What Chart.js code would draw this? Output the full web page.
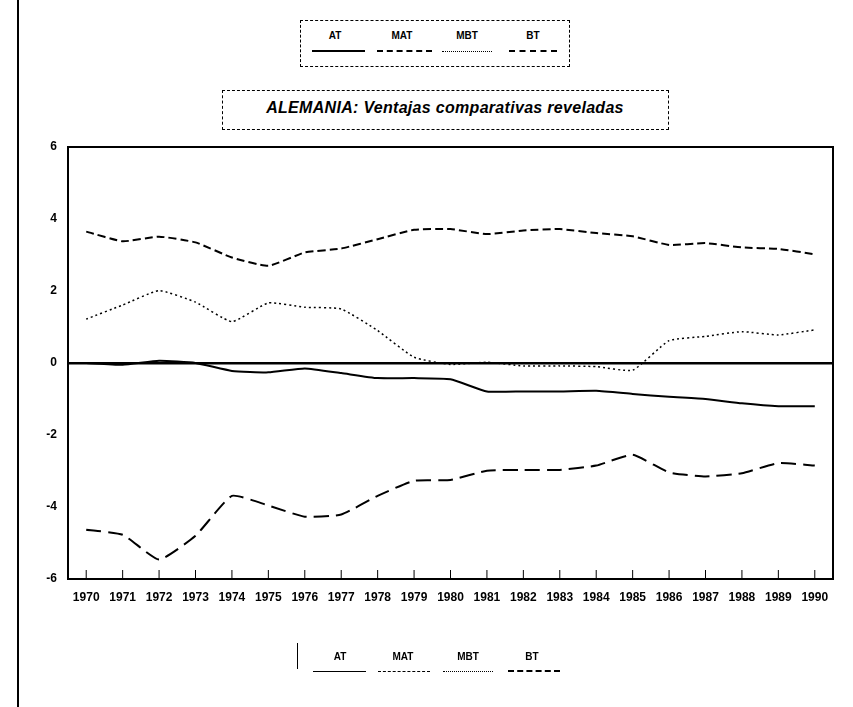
<!DOCTYPE html>
<html>
<head>
<meta charset="utf-8">
<script src="https://cdn.jsdelivr.net/npm/chart.js@4"></script>
<style>
  html, body { margin: 0; padding: 0; background: #fff; }
  #wrap { position: relative; width: 853px; height: 707px; overflow: hidden; font-family: "Liberation Sans", Arial, sans-serif; }
  #grafica { position: absolute; left: 0; top: 0; }
  .pageLine { position: absolute; left: 17px; top: 0; width: 2px; height: 707px; background: #000; }
  .box { position: absolute; border: 1px dashed #000; }
  .lbl { position: absolute; font-weight: bold; font-size: 10px; transform: translateX(-50%); }
  .smp { position: absolute; height: 0; }
  .title { position: absolute; left: 222px; width: 446px; top: 99px; text-align: center;
           font-weight: bold; font-style: italic; font-size: 16px; letter-spacing: 0.3px; }
</style>
</head>
<body>
<div id="wrap">
  <div class="pageLine"></div>

  <!-- leyenda superior -->
  <div class="box" style="left:300px;top:20px;width:268px;height:45px;"></div>
  <div class="lbl" style="left:335px;top:30px;">AT</div>
  <div class="lbl" style="left:402px;top:30px;">MAT</div>
  <div class="lbl" style="left:467px;top:30px;">MBT</div>
  <div class="lbl" style="left:533px;top:30px;">BT</div>
  <div class="smp" style="left:312px;top:50px;width:53px;border-top:2px solid #000;"></div>
  <div class="smp" style="left:377px;top:50px;width:55px;border-top:2px dashed #000;"></div>
  <div class="smp" style="left:442px;top:51px;width:50px;border-top:1px dotted #000;"></div>
  <div class="smp" style="left:509px;top:50px;width:48px;border-top:2px dashed #000;"></div>

  <!-- titulo -->
  <div class="box" style="left:222px;top:90px;width:445px;height:38px;"></div>
  <div class="title">ALEMANIA: Ventajas comparativas reveladas</div>

  <canvas id="grafica" width="853" height="707"></canvas>

  <!-- leyenda inferior -->
  <div class="smp" style="left:297px;top:643px;width:0;height:26px;border-left:1px solid #000;"></div>
  <div class="lbl" style="left:340px;top:651px;">AT</div>
  <div class="lbl" style="left:403px;top:651px;">MAT</div>
  <div class="lbl" style="left:468px;top:651px;">MBT</div>
  <div class="lbl" style="left:532px;top:651px;">BT</div>
  <div class="smp" style="left:313px;top:671px;width:53px;border-top:1px solid #000;"></div>
  <div class="smp" style="left:378px;top:671px;width:52px;border-top:1px dashed #000;"></div>
  <div class="smp" style="left:443px;top:671px;width:50px;border-top:1px dotted #000;"></div>
  <div class="smp" style="left:508px;top:670px;width:52px;border-top:2px dashed #000;"></div>
</div>

<script>
// Datos
const anios = ['1970','1971','1972','1973','1974','1975','1976','1977','1978','1979','1980',
               '1981','1982','1983','1984','1985','1986','1987','1988','1989','1990'];
const at  = [0.00, -0.05, 0.06, 0.00, -0.22, -0.26, -0.15, -0.28, -0.42, -0.42, -0.45,
             -0.79, -0.79, -0.79, -0.77, -0.86, -0.94, -1.00, -1.12, -1.20, -1.20];
const mat = [3.65, 3.38, 3.51, 3.35, 2.93, 2.70, 3.07, 3.18, 3.44, 3.70, 3.72,
             3.58, 3.68, 3.72, 3.61, 3.52, 3.28, 3.33, 3.21, 3.17, 3.02];
const mbt = [1.22, 1.61, 2.01, 1.69, 1.15, 1.67, 1.55, 1.50, 0.90, 0.16, -0.04,
             0.02, -0.08, -0.08, -0.10, -0.20, 0.62, 0.74, 0.87, 0.78, 0.92];
const bt  = [-4.63, -4.77, -5.46, -4.80, -3.69, -3.96, -4.27, -4.21, -3.69, -3.27, -3.25,
             -2.99, -2.97, -2.97, -2.85, -2.55, -3.04, -3.15, -3.06, -2.78, -2.85];
const ticksY = [-6, -4, -2, 0, 2, 4, 6];

// marco del área y marcas hacia adentro en el eje x
const marco = {
  id: 'marco',
  afterDraw(chart) {
    const { ctx, chartArea: a, scales } = chart;
    ctx.save();
    ctx.strokeStyle = '#000';
    ctx.lineWidth = 2;
    ctx.strokeRect(a.left, a.top, a.right - a.left, a.bottom - a.top);
    ctx.lineWidth = 1;
    scales.x.ticks.forEach((t, i) => {
      const x = scales.x.getPixelForTick(i);
      ctx.beginPath();
      ctx.moveTo(x, a.bottom);
      ctx.lineTo(x, a.bottom - 9);
      ctx.stroke();
    });
    ctx.restore();
  }
};

const ctx = document.getElementById('grafica').getContext('2d');
const myChart = new Chart(ctx, {
  type: 'line',
  data: {
    labels: anios,
    datasets: [
      { label: 'AT',  data: at,  borderColor: '#000', borderWidth: 2, borderDash: [] },
      { label: 'MAT', data: mat, borderColor: '#000', borderWidth: 2, borderDash: [8, 4] },
      { label: 'MBT', data: mbt, borderColor: '#000', borderWidth: 1.5, borderDash: [2, 3] },
      { label: 'BT',  data: bt,  borderColor: '#000', borderWidth: 2, borderDash: [15, 7] }
    ]
  },
  options: {
    responsive: false,
    animation: false,
    layout: { padding: { left: 0, right: 20, top: 147, bottom: 0 } },
    elements: { point: { radius: 0 }, line: { tension: 0.15, fill: false } },
    plugins: { legend: { display: false }, tooltip: { enabled: false } },
    scales: {
      x: {
        offset: true,
        grid: { display: false, offset: false, drawTicks: false },
        border: { display: false },
        afterFit: s => { s.height = 128; },
        ticks: {
          autoSkip: false, maxRotation: 0, padding: 11, color: '#000',
          font: { family: 'Liberation Sans', weight: 'bold', size: 12 }
        }
      },
      y: {
        min: -6, max: 6,
        afterFit: s => { s.width = 68; },
        afterBuildTicks: s => { s.ticks = ticksY.map(v => ({ value: v })); },
        grid: {
          drawTicks: false,
          color: c => c.tick && c.tick.value === 0 ? '#000' : 'rgba(0,0,0,0)',
          lineWidth: c => c.tick && c.tick.value === 0 ? 2.5 : 0
        },
        border: { display: false },
        ticks: {
          padding: 11, color: '#000',
          font: { family: 'Liberation Sans', weight: 'bold', size: 12 }
        }
      }
    }
  },
  plugins: [marco]
});
</script>
</body>
</html>
